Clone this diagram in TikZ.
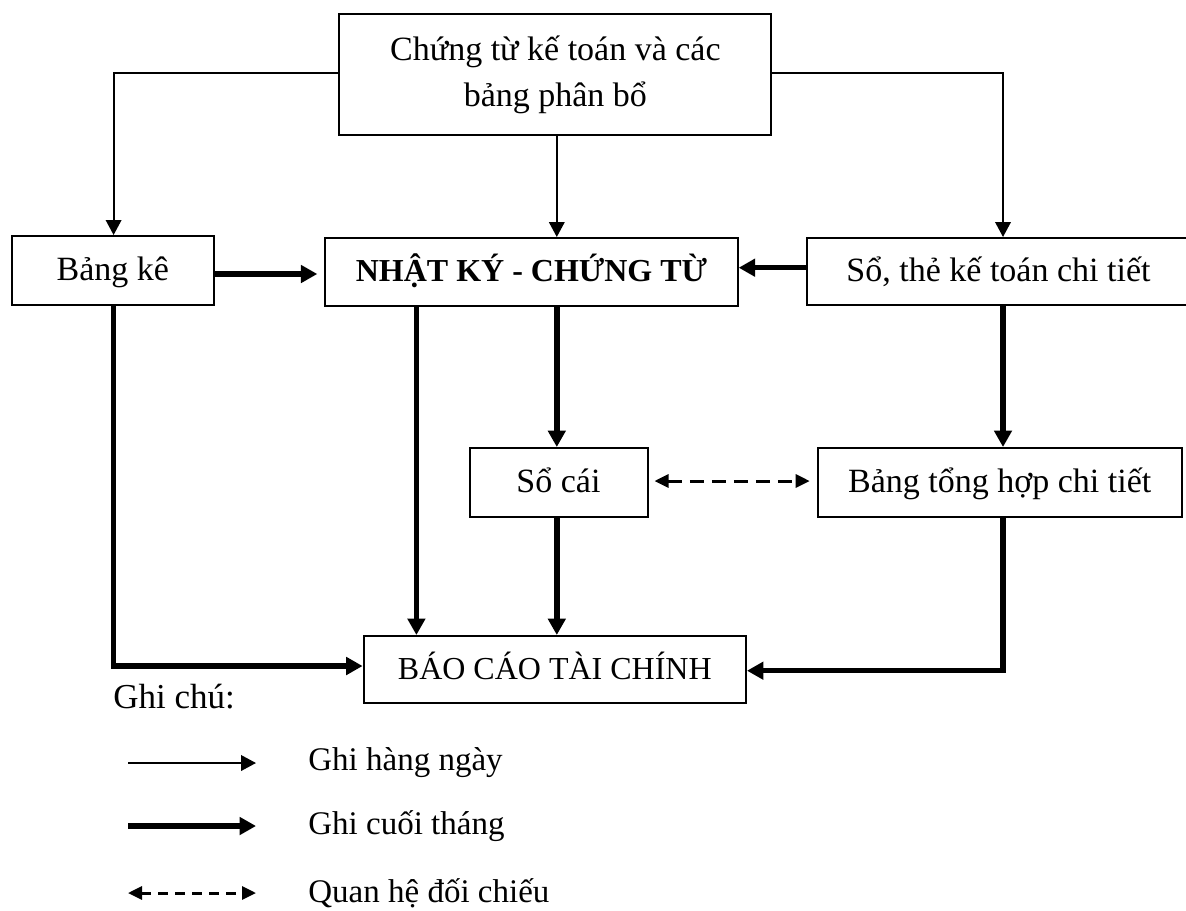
\documentclass[tikz,border=0pt]{standalone}
\usepackage{fontspec}
\setmainfont{Liberation Serif}
\usetikzlibrary{arrows.meta,calc}
\begin{document}
\begin{tikzpicture}[x=0.5pt,y=-0.5pt,
  font=\fontsize{17}{23}\selectfont,
  box/.style={draw,line width=1pt,inner sep=0pt,align=center},
  oneline/.style={text height=9.5pt,text depth=0pt},
  daily/.style={line width=0.9pt,-{Triangle[length=7.5pt,width=7.8pt]}},
  monthly/.style={line width=2.7pt,-{Triangle[length=8.2pt,width=8.6pt]}},
  crosscheck/.style={line width=1.5pt,dash pattern=on 7pt off 4pt,
    {Triangle[length=7pt,width=6.5pt]}-{Triangle[length=7pt,width=6.5pt]}},
  legendtext/.style={anchor=west,inner sep=0pt,font=\fontsize{16.5}{20}\selectfont}]
\useasboundingbox (0,0) rectangle (1186,910);

% boxes
\node[box,minimum width=216pt,minimum height=60.5pt] (top) at (555.4,74.5)
  {\raisebox{4.5pt}{\begin{tabular}{@{}c@{}}Chứng từ kế toán và các\\bảng phân bổ\end{tabular}}};
\node[box,oneline,minimum width=101.4pt,minimum height=34.5pt] (bk) at (112.9,270.5) {Bảng kê};
\node[box,oneline,minimum width=206.2pt,minimum height=34pt,font=\fontsize{16}{20}\selectfont\bfseries] (nk) at (531.5,272) {NHẬT KÝ - CHỨNG TỪ};
\node[box,oneline,minimum width=191.5pt,minimum height=33.5pt] (st) at (998.5,271.5) {Sổ, thẻ kế toán chi tiết};
\node[box,oneline,minimum width=89pt,minimum height=34.5pt] (sc) at (558.5,482.5) {Sổ cái};
\node[box,oneline,minimum width=182pt,minimum height=34.5pt] (bth) at (999.7,482.5) {Bảng tổng hợp chi tiết};
\node[box,oneline,minimum width=191.2pt,minimum height=33.5pt,font=\fontsize{16}{20}\selectfont] (bc) at (554.8,669.5) {BÁO CÁO TÀI CHÍNH};

% column and row guides for the connectors
\coordinate (colL) at (113.6,0);
\coordinate (colA) at (416.4,0);
\coordinate (colB) at (556.8,0);
\coordinate (colR) at (1003,0);
\coordinate (rowTop) at (0,73);
\coordinate (rowBk) at (0,274);
\coordinate (rowSt) at (0,267.7);
\coordinate (rowBcL) at (0,666);
\coordinate (rowBcR) at (0,670.7);
\coordinate (rowCmp) at (0,481);

% daily postings
\draw[daily] (top.west |- rowTop) -| (bk.north -| colL);
\draw[daily] (top.south -| colB) -- (nk.north -| colB);
\draw[daily] (top.east |- rowTop) -| (st.north -| colR);

% month-end postings
\draw[monthly] (bk.east |- rowBk) -- ([xshift=-3.5pt]nk.west |- rowBk);
\draw[monthly] (st.west |- rowSt) -- (nk.east |- rowSt);
\draw[monthly] (nk.south -| colB) -- (sc.north -| colB);
\draw[monthly] (st.south -| colR) -- (bth.north -| colR);
\draw[monthly] (nk.south -| colA) -- (bc.north -| colA);
\draw[monthly] (sc.south -| colB) -- (bc.north -| colB);
\draw[monthly] (bk.south -| colL) |- (bc.west |- rowBcL);
\draw[monthly] (bth.south -| colR) |- (bc.east |- rowBcR);

% cross-check
\draw[crosscheck] ([xshift=3pt]sc.east |- rowCmp) -- ([xshift=-3.5pt]bth.west |- rowCmp);

% legend
\node[legendtext,font=\fontsize{17.5}{20}\selectfont] (note) at (113,697) {Ghi chú:};
\coordinate (l1a) at (128,763); \coordinate (l1b) at (256,763);
\coordinate (l2a) at (128,826); \coordinate (l2b) at (256,826);
\coordinate (l3a) at (128,893); \coordinate (l3b) at (256,893);
\draw[daily] (l1a) -- (l1b);
\draw[monthly] (l2a) -- (l2b);
\draw[crosscheck,dash pattern=on 5pt off 3.5pt] (l3a) -- (l3b);
\node[legendtext] (t1) at (308,763) {Ghi hàng ngày};
\node[legendtext] (t2) at (308,826) {Ghi cuối tháng};
\node[legendtext] (t3) at (308,893) {Quan hệ đối chiếu};
\end{tikzpicture}
\end{document}
